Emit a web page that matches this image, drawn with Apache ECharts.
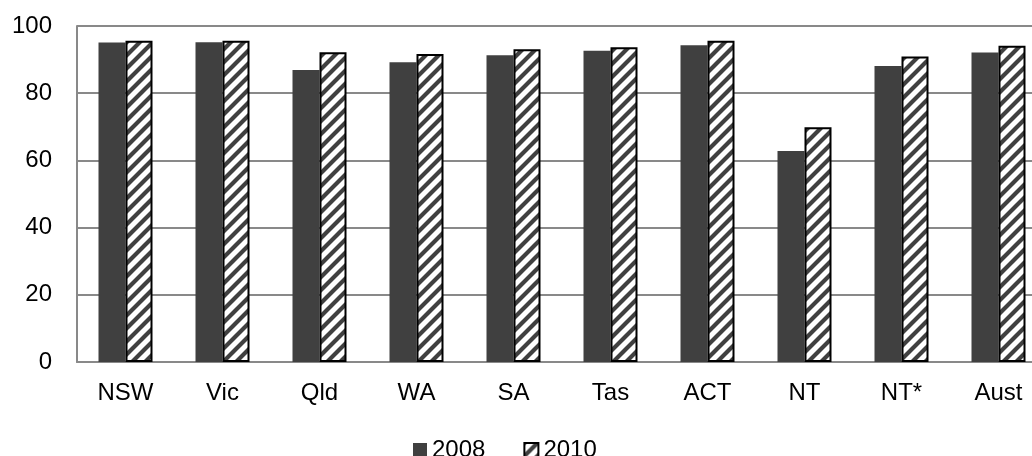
<!DOCTYPE html>
<html>
<head>
<meta charset="utf-8">
<script src="https://cdn.jsdelivr.net/npm/echarts@6/dist/echarts.min.js"></script>
<style>
  html, body { margin: 0; padding: 0; background: #fff; overflow: hidden; }
  #chart { width: 1047px; height: 456px; }
</style>
</head>
<body>
<div id="chart"></div>
<script>
// data
const categories = ['NSW', 'Vic', 'Qld', 'WA', 'SA', 'Tas', 'ACT', 'NT', 'NT*', 'Aust'];
const values2008 = [95.1, 95.2, 86.9, 89.2, 91.3, 92.6, 94.3, 62.8, 88.1, 92.1];
const values2010 = [95.6, 95.6, 92.2, 91.7, 93.1, 93.7, 95.6, 69.9, 90.9, 94.1];
const yTicks = [0, 20, 40, 60, 80, 100];

// diagonal hatch tile for the 2010 bars
function makeHatch() {
  const c = document.createElement('canvas');
  const s = 13;
  c.width = s;
  c.height = s;
  const ctx = c.getContext('2d');
  ctx.fillStyle = '#ffffff';
  ctx.fillRect(0, 0, s, s);
  ctx.strokeStyle = '#404040';
  ctx.lineWidth = 4.2;
  ctx.beginPath();
  ctx.moveTo(-3, s + 3); ctx.lineTo(s + 3, -3);
  ctx.moveTo(-3, 3); ctx.lineTo(3, -3);
  ctx.moveTo(s - 3, s + 3); ctx.lineTo(s + 3, s - 3);
  ctx.stroke();
  return c;
}
const hatch = { image: makeHatch(), repeat: 'repeat' };

const chart = echarts.init(document.getElementById('chart'));
const font = 'Liberation Sans, Arial, sans-serif';

chart.setOption({
  backgroundColor: '#ffffff',
  animation: false,
  textStyle: { fontFamily: font },
  grid: { left: 77, top: 26, right: 0, height: 336, containLabel: false },
  legend: {
    top: 433,
    left: 408,
    itemWidth: 14,
    itemHeight: 14,
    itemGap: 38,
    icon: 'rect',
    textStyle: { fontSize: 24, color: '#000', fontFamily: font },
    data: ['2008', '2010']
  },
  xAxis: {
    type: 'category',
    data: categories,
    axisLine: { show: true, lineStyle: { color: '#898989', width: 2 } },
    axisTick: { show: false },
    axisLabel: { color: '#000', fontSize: 24, margin: 19, fontFamily: font }
  },
  yAxis: {
    type: 'value',
    min: yTicks[0],
    max: yTicks[yTicks.length - 1],
    interval: 20,
    axisLine: { show: true, lineStyle: { color: '#898989', width: 2 } },
    axisTick: { show: false },
    splitLine: { lineStyle: { color: '#898989', width: 2 } },
    axisLabel: { color: '#000', fontSize: 24, margin: 25, fontFamily: font }
  },
  series: [
    {
      name: '2008',
      type: 'bar',
      data: values2008,
      barWidth: 27,
      barGap: '0%',
      itemStyle: { color: '#404040' }
    },
    {
      name: '2010',
      type: 'bar',
      data: values2010,
      barWidth: 27,
      barGap: '0%',
      itemStyle: { color: hatch, borderColor: '#000', borderWidth: 2 }
    }
  ]
});
</script>
</body>
</html>
